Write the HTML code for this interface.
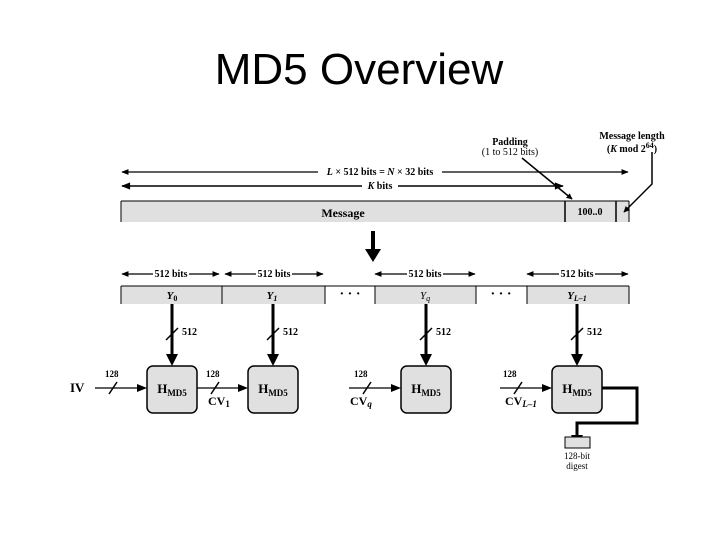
<!DOCTYPE html>
<html><head><meta charset="utf-8"><style>
body{margin:0;background:#fff;}
svg{display:block;font-family:"Liberation Serif",serif;}
</style></head><body>
<svg width="720" height="540" viewBox="0 0 720 540" xmlns="http://www.w3.org/2000/svg">
<defs>
<marker id="ah" viewBox="0 0 10 10" refX="9" refY="5" markerWidth="7" markerHeight="6" orient="auto-start-reverse"><path d="M0,1 L10,5 L0,9 z" fill="#000"/></marker>
<marker id="ab" viewBox="0 0 10 10" refX="9" refY="5" markerWidth="4" markerHeight="4" orient="auto"><path d="M0,0 L10,5 L0,10 z" fill="#000"/></marker>
</defs>
<text x="359" y="84" text-anchor="middle" font-family="Liberation Sans,sans-serif" font-size="44">MD5 Overview</text>

<text x="510" y="145" font-size="10" text-anchor="middle" font-weight="bold">Padding</text>
<text x="510" y="155" font-size="10" text-anchor="middle">(1 to 512 bits)</text>
<text x="632" y="139" font-size="10" text-anchor="middle" font-weight="bold">Message length</text>
<text x="632" y="152" font-size="10" text-anchor="middle" font-weight="bold">(<tspan font-style="italic">K</tspan> mod 2<tspan dy="-4" font-size="8">64</tspan><tspan dy="4">)</tspan></text>

<line x1="122" y1="172" x2="628" y2="172" stroke="#000" stroke-width="1.2" marker-start="url(#ah)" marker-end="url(#ah)"/>
<rect x="318" y="166" width="124" height="11" fill="#fff"/>
<text x="380" y="175" font-size="10" text-anchor="middle" font-weight="bold"><tspan font-style="italic">L</tspan> × 512 bits = <tspan font-style="italic">N</tspan> × 32 bits</text>
<line x1="122" y1="186" x2="563" y2="186" stroke="#000" stroke-width="1.5" marker-start="url(#ah)" marker-end="url(#ah)"/>
<rect x="362" y="180" width="36" height="11" fill="#fff"/>
<text x="380" y="189" font-size="10" text-anchor="middle" font-weight="bold"><tspan font-style="italic">K</tspan> bits</text>

<rect x="121" y="201" width="508" height="21" fill="#e0e0e0"/>
<line x1="121" y1="201" x2="629" y2="201" stroke="#000" stroke-width="1"/>
<line x1="121" y1="201" x2="121" y2="222" stroke="#000"/>
<line x1="565" y1="201" x2="565" y2="222" stroke="#000" stroke-width="1.5"/>
<line x1="616" y1="201" x2="616" y2="222" stroke="#000" stroke-width="1.5"/>
<line x1="629" y1="201" x2="629" y2="222" stroke="#000"/>
<text x="343" y="217" font-size="12" font-weight="bold" text-anchor="middle">Message</text>
<text x="590" y="215" font-size="10" font-weight="bold" text-anchor="middle">100..0</text>
<line x1="522" y1="158" x2="572" y2="199" stroke="#000" stroke-width="1.5" marker-end="url(#ab)"/>
<polyline points="652,152 652,184 624,212" fill="none" stroke="#000" stroke-width="1.5" marker-end="url(#ab)"/>

<line x1="373" y1="231" x2="373" y2="250" stroke="#000" stroke-width="4"/>
<path d="M365,249 L381,249 L373,262 z" fill="#000"/>

<g stroke="#000" stroke-width="1.2">
<line x1="122" y1="274" x2="219" y2="274" marker-start="url(#ah)" marker-end="url(#ah)"/>
<line x1="225" y1="274" x2="323" y2="274" marker-start="url(#ah)" marker-end="url(#ah)"/>
<line x1="375" y1="274" x2="475" y2="274" marker-start="url(#ah)" marker-end="url(#ah)"/>
<line x1="527" y1="274" x2="628" y2="274" marker-start="url(#ah)" marker-end="url(#ah)"/>
</g>
<g fill="#fff"><rect x="153" y="268" width="36" height="11"/><rect x="256" y="268" width="36" height="11"/><rect x="407" y="268" width="36" height="11"/><rect x="559" y="268" width="36" height="11"/></g>
<g font-size="10" font-weight="bold" text-anchor="middle">
<text x="171" y="277">512 bits</text><text x="274" y="277">512 bits</text><text x="425" y="277">512 bits</text><text x="577" y="277">512 bits</text>
</g>

<g fill="#e0e0e0"><rect x="121" y="286" width="204" height="18"/><rect x="375" y="286" width="101" height="18"/><rect x="527" y="286" width="102" height="18"/></g>
<g stroke="#000" stroke-width="1">
<line x1="121" y1="286" x2="629" y2="286"/>
<line x1="121" y1="286" x2="121" y2="304"/><line x1="222" y1="286" x2="222" y2="304"/><line x1="325" y1="286" x2="325" y2="304"/>
<line x1="375" y1="286" x2="375" y2="304"/><line x1="476" y1="286" x2="476" y2="304"/>
<line x1="527" y1="286" x2="527" y2="304"/><line x1="629" y1="286" x2="629" y2="304"/>
</g>
<g font-size="11" font-weight="bold" font-style="italic" text-anchor="middle">
<text x="172" y="299">Y<tspan font-size="8" dy="2" font-style="normal">0</tspan></text>
<text x="272" y="299">Y<tspan font-size="8" dy="2">1</tspan></text>
<text x="425" y="299" font-weight="normal">Y<tspan font-size="8" dy="2">q</tspan></text>
<text x="577" y="299">Y<tspan font-size="8" dy="2">L–1</tspan></text>
</g>
<g font-size="14" font-weight="bold" text-anchor="middle"><text x="350" y="298">· · ·</text><text x="501" y="298">· · ·</text></g>

<g stroke="#000" stroke-width="3">
<line x1="172" y1="304" x2="172" y2="356"/><line x1="273" y1="304" x2="273" y2="356"/>
<line x1="426" y1="304" x2="426" y2="356"/><line x1="577" y1="304" x2="577" y2="356"/>
</g>
<g fill="#000">
<path d="M166,354 L178,354 L172,366 z"/><path d="M267,354 L279,354 L273,366 z"/>
<path d="M420,354 L432,354 L426,366 z"/><path d="M571,354 L583,354 L577,366 z"/>
</g>
<g stroke="#000" stroke-width="1.5">
<line x1="166" y1="340" x2="178" y2="328"/><line x1="267" y1="340" x2="279" y2="328"/>
<line x1="420" y1="340" x2="432" y2="328"/><line x1="571" y1="340" x2="583" y2="328"/>
</g>
<g font-size="10" font-weight="bold"><text x="182" y="335">512</text><text x="283" y="335">512</text><text x="436" y="335">512</text><text x="587" y="335">512</text></g>

<g fill="#e0e0e0" stroke="#000" stroke-width="1.5">
<rect x="147" y="366" width="50" height="47" rx="6"/>
<rect x="248" y="366" width="50" height="47" rx="6"/>
<rect x="401" y="366" width="50" height="47" rx="6"/>
<rect x="552" y="366" width="50" height="47" rx="6"/>
</g>
<g font-size="13" font-weight="bold" text-anchor="middle">
<text x="172" y="393">H<tspan font-size="9" dy="3">MD5</tspan></text>
<text x="273" y="393">H<tspan font-size="9" dy="3">MD5</tspan></text>
<text x="426" y="393">H<tspan font-size="9" dy="3">MD5</tspan></text>
<text x="577" y="393">H<tspan font-size="9" dy="3">MD5</tspan></text>
</g>

<g stroke="#000" stroke-width="1.2">
<line x1="95" y1="388" x2="140" y2="388"/><line x1="197" y1="388" x2="241" y2="388"/>
<line x1="349" y1="388" x2="394" y2="388"/><line x1="500" y1="388" x2="545" y2="388"/>
</g>
<g fill="#000">
<path d="M137,384 L147,388 L137,392 z"/><path d="M238,384 L248,388 L238,392 z"/>
<path d="M391,384 L401,388 L391,392 z"/><path d="M542,384 L552,388 L542,392 z"/>
</g>
<g stroke="#000" stroke-width="1.5">
<line x1="109" y1="394" x2="117" y2="382"/><line x1="211" y1="394" x2="219" y2="382"/>
<line x1="363" y1="394" x2="371" y2="382"/><line x1="514" y1="394" x2="522" y2="382"/>
</g>
<g font-size="9" font-weight="bold"><text x="105" y="377">128</text><text x="206" y="377">128</text><text x="354" y="377">128</text><text x="503" y="377">128</text></g>
<text x="70" y="392" font-size="13" font-weight="bold">IV</text>
<text x="208" y="405" font-size="12" font-weight="bold">CV<tspan font-size="9" dy="2">1</tspan></text>
<text x="350" y="405" font-size="12" font-weight="bold">CV<tspan font-size="9" dy="2" font-style="italic">q</tspan></text>
<text x="505" y="405" font-size="12" font-weight="bold">CV<tspan font-size="9" dy="2" font-style="italic">L–1</tspan></text>

<polyline points="602,388 637,388 637,423 577,423 577,438" fill="none" stroke="#000" stroke-width="3"/>
<path d="M571,435 L583,435 L577,446 z" fill="#000"/>
<rect x="565" y="437" width="25" height="11" fill="#e0e0e0" stroke="#000"/>
<text x="577" y="459" font-size="9" text-anchor="middle">128-bit</text>
<text x="577" y="469" font-size="9" text-anchor="middle">digest</text>
</svg>
</body></html>
